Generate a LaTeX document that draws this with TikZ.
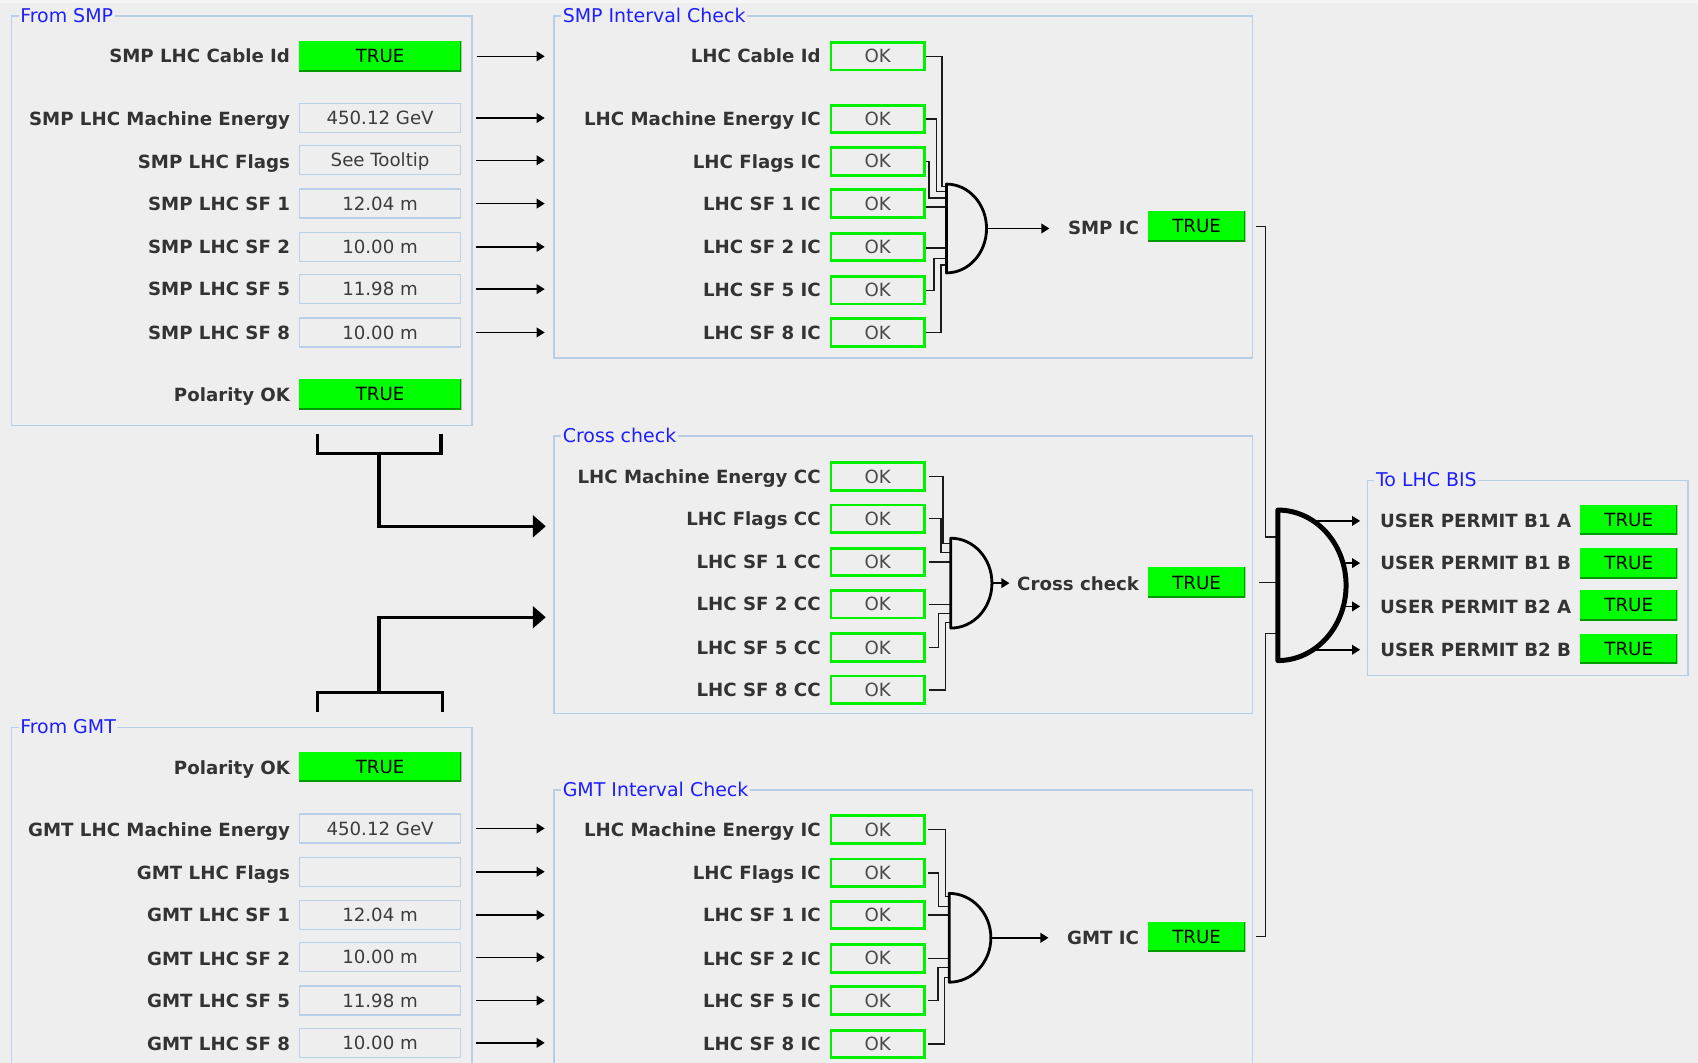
\documentclass[tikz,border=0pt]{standalone}
\usepackage{fontspec}
\setmainfont{DejaVu Sans}
\usetikzlibrary{arrows.meta,calc}
\definecolor{bg}{HTML}{EEEEEE}
\definecolor{topbg}{HTML}{F6F6F6}
\definecolor{panelblue}{HTML}{B8CDE6}
\definecolor{titleblue}{HTML}{1E1EFF}
\definecolor{txtgrey}{HTML}{333333}
\definecolor{valgrey}{HTML}{3C3C3C}
\definecolor{okgrey}{HTML}{4A4A4A}
\definecolor{tgreen}{HTML}{00FF00}
\definecolor{dkgreen}{HTML}{009A00}
\definecolor{okgreen}{HTML}{00F000}
\definecolor{boxblue}{HTML}{BACFE8}
\definecolor{wirec}{HTML}{1A1A1A}
\newcommand\lblfont{\fontsize{16.8pt}{20pt}\selectfont\bfseries}
\newcommand\valfont{\fontsize{16.8pt}{20pt}\selectfont}
\newcommand\ttlfont{\fontsize{17.5pt}{20pt}\selectfont}
\tikzset{
  panel/.style={draw=panelblue, line width=1.4pt, anchor=north west, inner sep=0pt},
  ptitle/.style={font=\ttlfont, text=titleblue, fill=bg, inner sep=1.5pt, anchor=west, text height=12.7pt, text depth=0pt},
  lbl/.style={font=\lblfont, text=txtgrey, inner sep=0pt, text height=12.3pt, text depth=0pt, anchor=east},
  vbox/.style={draw=boxblue, line width=1.2pt, fill=bg, minimum width=148.8pt, minimum height=26.8pt, inner sep=0pt, font=\valfont, text=valgrey, text height=12.2pt, text depth=0pt},
  tbox/.style={fill=tgreen, minimum height=28pt, inner sep=0pt, font=\valfont, text=black, text height=12.2pt, text depth=0pt,
    path picture={\draw[dkgreen, line width=3pt] (path picture bounding box.north east) -- (path picture bounding box.south east) -- (path picture bounding box.south west);}},
  okbox/.style={draw=okgreen, line width=2.6pt, fill=bg, minimum width=86.4pt, minimum height=25.4pt, inner sep=0pt, font=\valfont, text=okgrey, text height=12.2pt, text depth=0pt},
  wire/.style={draw=wirec, line width=1.3pt},
  arr/.style={draw=black, line width=1.4pt, -{Triangle[length=7.5pt,width=9pt]}},
  bigarr/.style={draw=black, line width=3pt, -{Triangle[length=12pt,width=20pt]}},
  heavy/.style={draw=black, line width=3pt},
  gate/.style={draw=black, line width=2.6pt, line join=round},
  biggate/.style={draw=black, line width=4.6pt, line join=round},
}
\begin{document}
\begin{tikzpicture}[x=1pt,y=-1pt]
\useasboundingbox (0,0) rectangle (1568,981.6);
\clip (0,0) rectangle (1568,981.6);
\fill[bg] (0,0) rectangle (1568,981.6);
\fill[topbg] (0,0) rectangle (1568,3);

% ---------- panels ----------
\node[panel, minimum width=425pt, minimum height=378pt] (fromsmp) at (10,14) {};
\node[panel, minimum width=645pt, minimum height=316pt] (smpint) at (511,14) {};
\node[panel, minimum width=645pt, minimum height=256pt] (cross) at (511,402) {};
\node[panel, minimum width=425pt, minimum height=420pt] (fromgmt) at (10,671) {};
\node[panel, minimum width=645pt, minimum height=420pt] (gmtint) at (511,729) {};
\node[panel, minimum width=296pt, minimum height=180pt] (bis) at (1262,443) {};
\node[ptitle] (t1) at ([xshift=7pt]fromsmp.north west) {From SMP};
\node[ptitle] (t2) at ([xshift=7pt]smpint.north west) {SMP Interval Check};
\node[ptitle] (t3) at ([xshift=7pt]cross.north west) {Cross check};
\node[ptitle] (t4) at ([xshift=7pt]fromgmt.north west) {From GMT};
\node[ptitle] (t5) at ([xshift=7pt]gmtint.north west) {GMT Interval Check};
\node[ptitle] (t6) at ([xshift=7pt]bis.north west) {To LHC BIS};

% ---------- From SMP ----------
\node[lbl] (sl1) at (268,52) {SMP LHC Cable Id};
\node[tbox, minimum width=150pt] (sv1) at (351,52) {TRUE};
\node[lbl] (sl2) at (268,110) {SMP LHC Machine Energy};
\node[vbox] (sv2) at (351,109) {450.12 GeV};
\node[lbl] (sl3) at (268,149) {SMP LHC Flags};
\node[vbox] (sv3) at (351,148) {See Tooltip};
\node[lbl] (sl4) at (268,188) {SMP LHC SF 1};
\node[vbox] (sv4) at (351,188) {12.04 m};
\node[lbl] (sl5) at (268,228) {SMP LHC SF 2};
\node[vbox] (sv5) at (351,228) {10.00 m};
\node[lbl] (sl6) at (268,267) {SMP LHC SF 5};
\node[vbox] (sv6) at (351,267) {11.98 m};
\node[lbl] (sl7) at (268,307) {SMP LHC SF 8};
\node[vbox] (sv7) at (351,307) {10.00 m};
\node[lbl] (sl8) at (268,365) {Polarity OK};
\node[tbox, minimum width=150pt] (sv8) at (351,364) {TRUE};
\foreach \i in {1,...,7}
  \draw[arr, shorten <=14pt, shorten >=8pt] (sv\i.east) -- (sv\i.east -| smpint.west);

% ---------- SMP Interval Check ----------
\node[lbl] (il1) at (758,52) {LHC Cable Id};
\node[okbox] (ik1) at (810.5,52) {OK};
\node[lbl] (il2) at (758,110) {LHC Machine Energy IC};
\node[okbox] (ik2) at (810.5,110) {OK};
\node[lbl] (il3) at (758,149) {LHC Flags IC};
\node[okbox] (ik3) at (810.5,149) {OK};
\node[lbl] (il4) at (758,188) {LHC SF 1 IC};
\node[okbox] (ik4) at (810.5,188) {OK};
\node[lbl] (il5) at (758,228) {LHC SF 2 IC};
\node[okbox] (ik5) at (810.5,228) {OK};
\node[lbl] (il6) at (758,268) {LHC SF 5 IC};
\node[okbox] (ik6) at (810.5,268) {OK};
\node[lbl] (il7) at (758,307) {LHC SF 8 IC};
\node[okbox] (ik7) at (810.5,307) {OK};

\coordinate (g1) at (874,211);
\coordinate (ga1) at (874,172);
\coordinate (ga2) at (874,177);
\coordinate (ga3) at (874,183);
\coordinate (ga4) at (874,191);
\coordinate (ga5) at (874,229);
\coordinate (ga6) at (874,238.6);
\coordinate (ga7) at (874,244.7);
\draw[wire] (ik1.east) -- ++(15,0) |- (ga1);
\draw[wire] (ik2.east) -- ++(9.8,0) |- (ga2);
\draw[wire] (ik3.east) -- ++(2.8,0) |- (ga3);
\draw[wire] (ik4.east |- ga4) -- (ga4);
\draw[wire] (ik5.east |- ga5) -- (ga5);
\draw[wire] (ik6.east) -- ++(7.6,0) |- (ga6);
\draw[wire] (ik7.east) -- ++(13.8,0) |- (ga7);
\draw[gate] ($(g1)+(0,41)$) -- ($(g1)+(0,-41)$) arc[start angle=-90, end angle=90, x radius=37, y radius=41] -- cycle;
\coordinate (g1o) at (911,211);
\node[lbl] (smpic) at (1052,210) {SMP IC};
\node[tbox, minimum width=90pt] (smpt) at (1105,209) {TRUE};
\draw[arr, shorten >=17pt] (g1o) -- (g1o -| smpic.west);

% ---------- Cross check ----------
\node[lbl] (cl1) at (758,440) {LHC Machine Energy CC};
\node[okbox] (ck1) at (810.5,440) {OK};
\node[lbl] (cl2) at (758,479) {LHC Flags CC};
\node[okbox] (ck2) at (810.5,479) {OK};
\node[lbl] (cl3) at (758,519) {LHC SF 1 CC};
\node[okbox] (ck3) at (810.5,519) {OK};
\node[lbl] (cl4) at (758,558) {LHC SF 2 CC};
\node[okbox] (ck4) at (810.5,558) {OK};
\node[lbl] (cl5) at (758,598) {LHC SF 5 CC};
\node[okbox] (ck5) at (810.5,598) {OK};
\node[lbl] (cl6) at (758,637) {LHC SF 8 CC};
\node[okbox] (ck6) at (810.5,637) {OK};

\coordinate (g2) at (878,538.5);
\coordinate (gb1) at (878,502);
\coordinate (gb2) at (878,510.4);
\coordinate (gb3) at (878,519);
\coordinate (gb4) at (878,558);
\coordinate (gb5) at (878,566.4);
\coordinate (gb6) at (878,575);
\draw[wire, shorten <=3pt] (ck1.east) -- ++(15.8,0) |- (gb1);
\draw[wire, shorten <=3pt] (ck2.east) -- ++(13.8,0) |- (gb2);
\draw[wire, shorten <=3pt] (ck3.east) -- (gb3);
\draw[wire, shorten <=3pt] (ck4.east) -- (gb4);
\draw[wire, shorten <=3pt] (ck5.east) -- ++(11.9,0) |- (gb5);
\draw[wire, shorten <=3pt] (ck6.east) -- ++(18.3,0) |- (gb6);
\draw[gate] ($(g2)+(0,41.5)$) -- ($(g2)+(0,-41.5)$) arc[start angle=-90, end angle=90, x radius=38, y radius=41.5] -- cycle;
\coordinate (g2o) at (916,538.5);
\node[lbl] (cclbl) at (1052,539) {Cross check};
\node[tbox, minimum width=90pt] (cct) at (1105,538) {TRUE};
\draw[arr, shorten >=7pt] (g2o) -- (g2o -| cclbl.west);

% ---------- brackets ----------
\coordinate (b1l) at (293,401);
\coordinate (b1r) at (407.3,401);
\coordinate (b1m) at (350,418.5);
\coordinate (b1t) at (504,486);
\draw[heavy] (b1l) |- (b1m) -| (b1r);
\draw[bigarr] (b1m) |- (b1t);
\coordinate (b2l) at (293,657.5);
\coordinate (b2r) at (408.8,657.5);
\coordinate (b2m) at (350,639.5);
\coordinate (b2t) at (504,570);
\draw[heavy] (b2l) |- (b2m) -| (b2r);
\draw[bigarr] (b2m) |- (b2t);

% ---------- From GMT ----------
\node[lbl] (gl1) at (268,709) {Polarity OK};
\node[tbox, minimum width=150pt] (gv1) at (351,708) {TRUE};
\node[lbl] (gl2) at (268,766) {GMT LHC Machine Energy};
\node[vbox] (gv2) at (351,765) {450.12 GeV};
\node[lbl] (gl3) at (268,806) {GMT LHC Flags};
\node[vbox] (gv3) at (351,805) {};
\node[lbl] (gl4) at (268,845) {GMT LHC SF 1};
\node[vbox] (gv4) at (351,845) {12.04 m};
\node[lbl] (gl5) at (268,885) {GMT LHC SF 2};
\node[vbox] (gv5) at (351,884) {10.00 m};
\node[lbl] (gl6) at (268,924) {GMT LHC SF 5};
\node[vbox] (gv6) at (351,924) {11.98 m};
\node[lbl] (gl7) at (268,964) {GMT LHC SF 8};
\node[vbox] (gv7) at (351,963) {10.00 m};
\foreach \i in {2,...,7}
  \draw[arr, shorten <=14pt, shorten >=8pt] (gv\i.east) -- (gv\i.east -| gmtint.west);

% ---------- GMT Interval Check ----------
\node[lbl] (hl1) at (758,766) {LHC Machine Energy IC};
\node[okbox] (hk1) at (810.5,766) {OK};
\node[lbl] (hl2) at (758,806) {LHC Flags IC};
\node[okbox] (hk2) at (810.5,806) {OK};
\node[lbl] (hl3) at (758,845) {LHC SF 1 IC};
\node[okbox] (hk3) at (810.5,845) {OK};
\node[lbl] (hl4) at (758,885) {LHC SF 2 IC};
\node[okbox] (hk4) at (810.5,885) {OK};
\node[lbl] (hl5) at (758,924) {LHC SF 5 IC};
\node[okbox] (hk5) at (810.5,924) {OK};
\node[lbl] (hl6) at (758,964) {LHC SF 8 IC};
\node[okbox] (hk6) at (810.5,964) {OK};

\coordinate (g3) at (876.5,866);
\coordinate (gc1) at (876.5,828);
\coordinate (gc2) at (876.5,837.3);
\coordinate (gc3) at (876.5,845);
\coordinate (gc4) at (876.5,885);
\coordinate (gc5) at (876.5,893.3);
\coordinate (gc6) at (876.5,902.6);
\draw[wire, shorten <=2pt] (hk1.east) -- ++(18.3,0) |- (gc1);
\draw[wire, shorten <=2pt] (hk2.east) -- ++(11.9,0) |- (gc2);
\draw[wire, shorten <=2pt] (hk3.east) -- (gc3);
\draw[wire, shorten <=2pt] (hk4.east) -- (gc4);
\draw[wire, shorten <=2pt] (hk5.east) -- ++(11.3,0) |- (gc5);
\draw[wire, shorten <=2pt] (hk6.east) -- ++(17,0) |- (gc6);
\draw[gate] ($(g3)+(0,41)$) -- ($(g3)+(0,-41)$) arc[start angle=-90, end angle=90, x radius=38.5, y radius=41] -- cycle;
\coordinate (g3o) at (915,866);
\node[lbl] (gmtic) at (1052,866) {GMT IC};
\node[tbox, minimum width=90pt] (gmtt) at (1105,865) {TRUE};
\draw[arr, shorten >=17pt] (g3o) -- (g3o -| gmtic.west);

% ---------- final gate ----------
\coordinate (g4) at (1180,540.5);
\coordinate (bin1) at (1180,496);
\coordinate (bin2) at (1180,538);
\coordinate (bin3) at (1180,585);
\draw[wire, shorten <=10pt] (smpt.east) -- ++(18.5,0) |- (bin1);
\draw[wire, shorten <=12pt] (cct.east) -- (bin2);
\draw[wire, shorten <=10pt] (gmtt.east) -- ++(18.5,0) |- (bin3);
\draw[biggate] ($(g4)+(0,69.5)$) -- ($(g4)+(0,-69.5)$) arc[start angle=-90, end angle=90, x radius=63, y radius=69.5] -- cycle;

% ---------- To LHC BIS ----------
\node[lbl] (ul1) at (1451,481) {USER PERMIT B1 A};
\node[tbox, minimum width=90pt] (ut1) at (1504,480) {TRUE};
\node[lbl] (ul2) at (1451,520) {USER PERMIT B1 B};
\node[tbox, minimum width=90pt] (ut2) at (1504,520) {TRUE};
\node[lbl] (ul3) at (1451,560) {USER PERMIT B2 A};
\node[tbox, minimum width=90pt] (ut3) at (1504,559) {TRUE};
\node[lbl] (ul4) at (1451,600) {USER PERMIT B2 B};
\node[tbox, minimum width=90pt] (ut4) at (1504,599) {TRUE};
\coordinate (bo1) at (1210,481);
\coordinate (bo2) at (1238,520);
\coordinate (bo3) at (1238,560);
\coordinate (bo4) at (1210,600);
\foreach \i in {1,...,4}
  \draw[arr, shorten >=6pt] (bo\i) -- (bo\i -| bis.west);
\end{tikzpicture}
\end{document}
